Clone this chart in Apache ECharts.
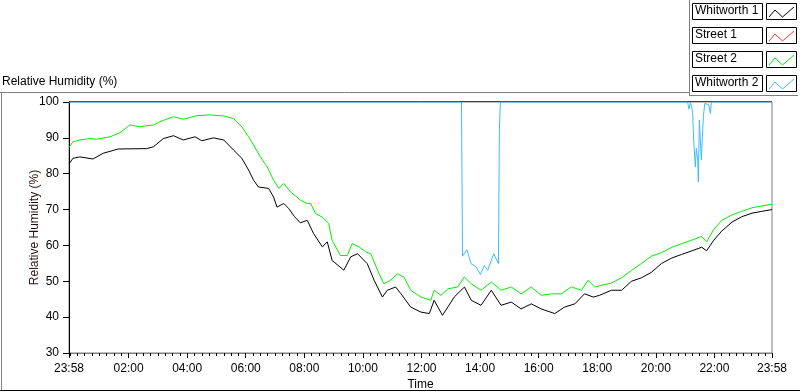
<!DOCTYPE html>
<html>
<head>
<meta charset="utf-8">
<script src="https://cdn.jsdelivr.net/npm/echarts@6/dist/echarts.min.js"></script>
<style>
  html, body { margin: 0; padding: 0; background: #fff; }
  #chart { width: 800px; height: 392px; }
</style>
</head>
<body>
<div id="chart"></div>
<script>
// minutes since 23:58 (start of the log)
const majorTicks = [0, 122, 242, 362, 482, 602, 722, 842, 962, 1082, 1202, 1322, 1440];

const whit1T = [0, 8, 22, 49, 70, 101, 159, 173, 193, 214, 234, 258, 272, 296, 317, 337, 354, 368, 378, 388, 409, 419, 426, 440, 450, 462, 474, 488, 501, 519, 529, 539, 563, 577, 591, 611, 625, 642, 652, 669, 680, 700, 721, 738, 748, 765, 776, 789, 810, 824, 844, 865, 885, 906, 926, 947, 967, 995, 1015, 1036, 1056, 1074, 1087, 1111, 1132, 1152, 1173, 1193, 1214, 1235, 1255, 1276, 1296, 1306, 1321, 1337, 1358, 1378, 1399, 1419, 1440];
const whit1V = [82.7, 84.3, 84.7, 84.1, 85.7, 86.9, 87.0, 87.5, 89.8, 90.6, 89.4, 90.3, 89.2, 90.0, 89.4, 86.6, 84.3, 81.0, 78.2, 76.3, 75.9, 73.5, 70.7, 71.7, 70.3, 68.0, 66.3, 67.0, 63.3, 59.6, 61.0, 55.8, 53.1, 56.8, 57.7, 54.9, 50.3, 45.6, 47.5, 48.4, 46.5, 42.8, 41.4, 41.0, 44.7, 40.5, 42.8, 45.6, 48.4, 44.7, 43.3, 47.5, 43.3, 44.2, 42.3, 43.7, 42.3, 41.0, 42.8, 43.7, 46.5, 45.6, 46.1, 47.5, 47.5, 50.0, 51.0, 52.5, 55.0, 56.5, 57.5, 58.5, 59.5, 58.5, 61.5, 64.0, 66.5, 68.0, 69.0, 69.5, 70.0];

const street1T = [];
const street1V = [];

const street2T = [0, 8, 22, 43, 56, 84, 104, 125, 145, 173, 186, 214, 234, 262, 289, 317, 337, 354, 368, 378, 392, 406, 419, 430, 440, 454, 467, 474, 488, 495, 505, 519, 532, 539, 556, 570, 580, 594, 608, 618, 632, 645, 659, 673, 686, 700, 721, 741, 748, 762, 776, 796, 810, 824, 844, 865, 885, 906, 926, 947, 967, 988, 1008, 1029, 1050, 1063, 1077, 1091, 1111, 1132, 1152, 1173, 1193, 1214, 1235, 1255, 1276, 1296, 1306, 1321, 1337, 1358, 1378, 1399, 1419, 1440];
const street2V = [87.3, 88.9, 89.4, 89.8, 89.6, 90.3, 91.4, 93.6, 93.1, 93.6, 94.5, 95.9, 95.2, 96.2, 96.4, 96.1, 95.4, 93.1, 90.3, 88.0, 84.7, 81.9, 78.2, 75.9, 77.3, 74.9, 73.5, 72.6, 71.7, 71.7, 68.9, 67.9, 66.1, 61.4, 57.2, 57.2, 60.5, 59.6, 58.2, 57.7, 53.1, 49.3, 50.3, 52.1, 51.2, 47.5, 45.6, 44.7, 47.5, 46.1, 47.9, 48.4, 51.2, 49.3, 47.5, 49.8, 47.5, 48.4, 46.5, 48.4, 46.1, 46.5, 46.5, 48.4, 47.5, 50.3, 48.4, 48.9, 49.5, 51.0, 53.0, 55.0, 57.0, 58.0, 59.5, 60.5, 61.5, 62.5, 61.0, 64.5, 67.0, 68.5, 69.5, 70.5, 71.0, 71.5];

const whit2T = [0, 804, 805, 806, 808, 815, 823.5, 834, 842.6, 850.8, 857.8, 870, 879.6, 881.6, 883.7, 1267, 1270, 1273, 1276, 1277.5, 1279.6, 1282.9, 1285, 1287.9, 1289.1, 1291.2, 1293.2, 1295.3, 1297.4, 1299.4, 1302.3, 1305.6, 1310.5, 1313.8, 1315.9, 1440];
const whit2V = [100, 100, 78.5, 57.0, 57.2, 58.8, 54.9, 54.0, 51.9, 54.4, 53.1, 57.7, 54.9, 92.7, 100, 100, 98.0, 100, 98.4, 96.8, 89.4, 81.9, 87.1, 83.8, 77.7, 95.0, 89.4, 83.8, 90.3, 95.9, 99.6, 99.8, 99.2, 96.8, 100, 100];

const legendNames = ["Whitworth 1", "Street 1", "Street 2", "Whitworth 2"];
const colors = ["#000000", "#ff3030", "#00ee00", "#3cbcff"];

function pairs(t, v) {
    return t.map(function (m, i) { return [m, v[i]]; });
}

function clock(m) {
    let total = (23 * 60 + 58 + Math.round(m)) % 1440;
    let h = Math.floor(total / 60);
    let mm = total % 60;
    return (h < 10 ? "0" : "") + h + ":" + (mm < 10 ? "0" : "") + mm;
}

let minorTicks = [];
for (let m = 2; m < 1440; m += 15) minorTicks.push(m);

let dom = document.getElementById("chart");
let myChart = echarts.init(dom, null, { renderer: "canvas" });

const font = "'Liberation Sans', Arial, sans-serif";

// legend drawn as boxed entries like the original panel
let legendGraphics = [];
legendNames.forEach(function (name, i) {
    let top = 3 + i * 24;
    legendGraphics.push({
        type: "rect",
        shape: { x: 692.5, y: top + 0.5, width: 70, height: 16 },
        style: { fill: "#fff", stroke: "#000", lineWidth: 1 },
    });
    legendGraphics.push({
        type: "text",
        x: 695, y: top + 2,
        style: { text: name, fill: "#000", font: "12px " + font },
    });
    legendGraphics.push({
        type: "rect",
        shape: { x: 766.5, y: top + 0.5, width: 30, height: 16 },
        style: { fill: "#fff", stroke: "#000", lineWidth: 1 },
    });
    legendGraphics.push({
        type: "polyline",
        shape: { points: [[769, top + 14], [775, top + 7], [782.5, top + 14], [794, top + 4]] },
        style: { stroke: colors[i], lineWidth: 1, fill: null },
    });
});

let option = {
    animation: false,
    textStyle: { fontFamily: font },
    title: {
        text: "Relative Humidity (%)",
        left: 2,
        top: 76,
        padding: 0,
        textStyle: { fontSize: 12, fontWeight: "normal", color: "#000", fontFamily: font },
    },
    grid: {
        left: 69,
        top: 102,
        right: 28,
        bottom: 39,
        outerBoundsMode: "none",
        show: true,
        borderColor: "#808080",
        borderWidth: 1,
    },
    xAxis: [{
        type: "value",
        min: 0,
        max: 1440,
        name: "Time",
        nameLocation: "middle",
        nameGap: 26,
        nameMoveOverlap: false,
        nameTextStyle: { color: "#000", fontSize: 12 },
        axisLine: { show: true, lineStyle: { color: "#808080" } },
        axisTick: { show: true, length: 5, customValues: majorTicks, lineStyle: { color: "#000" } },
        axisLabel: {
            customValues: majorTicks,
            color: "#000",
            fontSize: 12,
            margin: 10,
            formatter: function (v) { return clock(v); },
        },
        splitLine: { show: false },
    }, {
        type: "value",
        min: 0,
        max: 1440,
        position: "bottom",
        axisLine: { show: false },
        axisTick: { show: true, length: 3, customValues: minorTicks, lineStyle: { color: "#000" } },
        axisLabel: { show: false },
        splitLine: { show: false },
    }],
    yAxis: {
        type: "value",
        min: 30,
        max: 100,
        interval: 10,
        name: "Relative Humidity (%)",
        nameLocation: "middle",
        nameGap: 28,
        nameMoveOverlap: false,
        nameTextStyle: { color: "#2a1010", fontSize: 12 },
        axisLine: { show: true, lineStyle: { color: "#000" } },
        axisTick: { show: true, length: 6, lineStyle: { color: "#000" } },
        axisLabel: { color: "#000", fontSize: 12, margin: 10 },
        splitLine: { show: false },
    },
    series: [
        { name: legendNames[0], type: "line", data: pairs(whit1T, whit1V) },
        { name: legendNames[1], type: "line", data: pairs(street1T, street1V) },
        { name: legendNames[2], type: "line", data: pairs(street2T, street2V) },
        { name: legendNames[3], type: "line", data: pairs(whit2T, whit2V) },
    ].map(function (s, i) {
        s.showSymbol = false;
        s.symbol = "none";
        s.xAxisIndex = 0;
        s.lineStyle = { width: 1, color: colors[i] };
        s.itemStyle = { color: colors[i] };
        return s;
    }),
    graphic: [
        { type: "line", shape: { x1: 0, y1: 92.5, x2: 689, y2: 92.5 }, style: { stroke: "#808080", lineWidth: 1 } },
        { type: "line", shape: { x1: 689.5, y1: 0, x2: 689.5, y2: 95 }, style: { stroke: "#808080", lineWidth: 1 } },
        { type: "line", shape: { x1: 689, y1: 95.5, x2: 798, y2: 95.5 }, style: { stroke: "#808080", lineWidth: 1 } },
        { type: "line", shape: { x1: 1.5, y1: 92, x2: 1.5, y2: 391 }, style: { stroke: "#808080", lineWidth: 1 } },
        { type: "line", shape: { x1: 0, y1: 390.5, x2: 800, y2: 390.5 }, style: { stroke: "#000", lineWidth: 1 } },
        { type: "line", shape: { x1: 69, y1: 101.5, x2: 772, y2: 101.5 }, style: { stroke: "#000", lineWidth: 1 }, z: -1 },
    ].concat(legendGraphics),
};

myChart.setOption(option);
window.addEventListener("resize", myChart.resize);
</script>
</body>
</html>
